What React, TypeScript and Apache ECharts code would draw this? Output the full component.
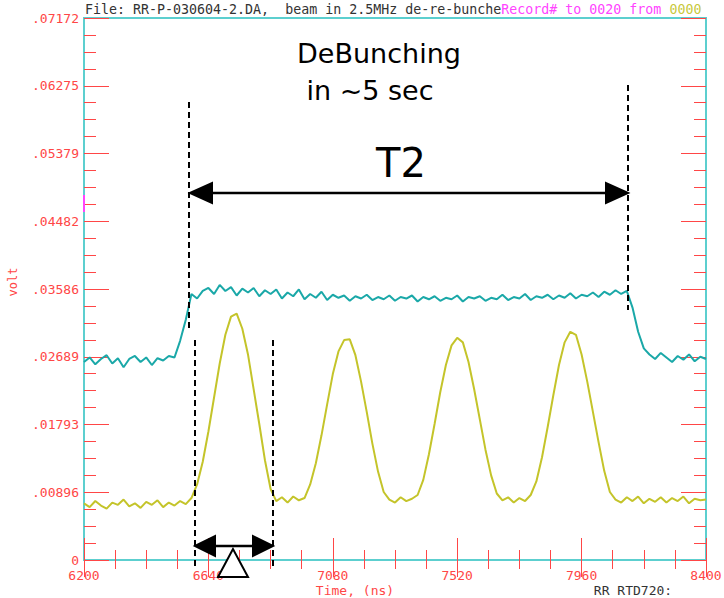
import React, { useEffect, useRef } from "react";
import * as echarts from "echarts";

// time grid (ns): sampling start and step
const T0 = 6200;
const STEP = 20;

// cyan trace (volt), one value per 20 ns from 6200 to 8400
const cyanTrace = [
  0.0262, 0.0268, 0.0259, 0.0266, 0.0271, 0.026, 0.0267, 0.0255, 0.0266, 0.027,
  0.0262, 0.0268, 0.0258, 0.0267, 0.0264, 0.027, 0.0268, 0.029, 0.0318, 0.0352,
  0.0346, 0.0356, 0.036, 0.0352, 0.0364, 0.0356, 0.0361, 0.035, 0.0359, 0.0354,
  0.036, 0.0349, 0.0357, 0.0352, 0.0358, 0.0346, 0.0354, 0.0349, 0.0358, 0.0345,
  0.0352, 0.0347, 0.0355, 0.0344, 0.0351, 0.0347, 0.035, 0.0343, 0.0349, 0.0346,
  0.0351, 0.0344, 0.0348, 0.0345, 0.035, 0.0343, 0.0348, 0.0346, 0.035, 0.0342,
  0.0348, 0.0345, 0.0349, 0.0343, 0.0347, 0.0345, 0.035, 0.0342, 0.0348, 0.0346,
  0.0349, 0.0343, 0.0347, 0.0345, 0.0351, 0.0344, 0.0348, 0.0346, 0.0352, 0.0344,
  0.0349, 0.0347, 0.0351, 0.0345, 0.035, 0.0347, 0.0353, 0.0346, 0.0351, 0.0349,
  0.0354, 0.0348, 0.0355, 0.0351, 0.0357, 0.0352, 0.0356, 0.0334, 0.0302, 0.028,
  0.0272, 0.0266, 0.0274, 0.0268, 0.0262, 0.027, 0.0265, 0.0272, 0.0263, 0.0269,
  0.0266,
];

// yellow trace (volt), one value per 20 ns from 6200 to 8400
const yellowTrace = [
  0.0075, 0.007, 0.0078, 0.0072, 0.0068, 0.0076, 0.0073, 0.008, 0.0071, 0.0075,
  0.0069, 0.0077, 0.0073, 0.0079, 0.007, 0.0076, 0.0072, 0.0078, 0.0074, 0.0082,
  0.01, 0.013, 0.017, 0.0215, 0.026, 0.0298, 0.0322, 0.0326, 0.0306, 0.0272,
  0.0226, 0.018, 0.0132, 0.0094, 0.0078, 0.0083, 0.0076, 0.0084, 0.0079, 0.0082,
  0.01, 0.0128, 0.0165, 0.0206, 0.0246, 0.0276, 0.0291, 0.0292, 0.0271, 0.0236,
  0.0196, 0.0154, 0.0117, 0.009, 0.008, 0.0076, 0.0083, 0.0078, 0.0081, 0.0086,
  0.0106, 0.014, 0.018, 0.0222, 0.0258, 0.0284, 0.0294, 0.0288, 0.0262, 0.0226,
  0.0186, 0.0146, 0.0112, 0.0088, 0.0079, 0.0083, 0.0076, 0.0082, 0.0078, 0.0086,
  0.0104, 0.0136, 0.0176, 0.0218, 0.0258, 0.0288, 0.0302, 0.0298, 0.0272, 0.0236,
  0.0196, 0.0156, 0.0118, 0.009, 0.008, 0.0076, 0.0083, 0.0078, 0.0084, 0.0075,
  0.0081, 0.0077, 0.0083, 0.0076, 0.0082, 0.0078, 0.0084, 0.0075, 0.0081, 0.0079,
  0.008,
];

// axes
const X_MIN = 6200;
const X_MAX = 8400;
const X_INTERVAL = 440;
const Y_MIN = 0;
const Y_MAX = 0.07172;
const Y_INTERVAL = 0.008965;
const yTickLabels = [
  "0",
  ".00896",
  ".01793",
  ".02689",
  ".03586",
  ".04482",
  ".05379",
  ".06275",
  ".07172",
];

const FRAME = "#5ccfcf";
const RED = "#ff4646";
const MONO = "DejaVu Sans Mono";

export default function App() {
  const ref = useRef<HTMLDivElement>(null);

  useEffect(() => {
    document.body.style.margin = "0";
    if (!ref.current) return;
    const chart = echarts.init(ref.current, null, { renderer: "svg" });

    const cyanData = cyanTrace.map((v, i) => [T0 + STEP * i, v]);
    const yellowData = yellowTrace.map((v, i) => [T0 + STEP * i, v]);

    const dash = [6, 4];
    const black = "#000";
    const line = (x1: number, y1: number, x2: number, y2: number, dashed: boolean, w = 2) => ({
      type: "line",
      z: 100,
      shape: { x1, y1, x2, y2 },
      style: { stroke: black, lineWidth: w, lineDash: dashed ? dash : null },
    });
    const poly = (pts: number[][], fill = black) => ({
      type: "polygon",
      z: 100,
      shape: { points: pts },
      style: { fill, stroke: black, lineWidth: 2 },
    });
    const text = (
      t: string,
      x: number,
      y: number,
      size: number,
      family: string,
      fill: string,
      align = "left",
      extra: any = {}
    ) => ({
      type: "text",
      z: 100,
      x,
      y,
      ...extra,
      style: {
        text: t,
        fill,
        fontSize: size,
        fontFamily: family,
        textAlign: align,
        align,
        textVerticalAlign: "middle",
        verticalAlign: "middle",
      },
    });

    const xTickCommon = {
      type: "value",
      min: X_MIN,
      max: X_MAX,
      interval: X_INTERVAL,
      splitLine: { show: false },
    };
    const yTickCommon = {
      type: "value",
      min: Y_MIN,
      max: Y_MAX,
      interval: Y_INTERVAL,
      splitLine: { show: false },
    };

    chart.setOption({
      animation: false,
      backgroundColor: "#ffffff",
      grid: {
        left: 84,
        right: 18,
        top: 18,
        bottom: 38,
        show: true,
        borderColor: FRAME,
        borderWidth: 2,
        outerBoundsMode: "none",
        containLabel: false,
      },
      xAxis: [
        {
          ...xTickCommon,
          position: "bottom",
          axisLine: { show: true, lineStyle: { color: FRAME, width: 2 } },
          axisTick: { show: true, inside: true, length: 22, lineStyle: { color: RED, width: 1 } },
          minorTick: { show: true, splitNumber: 4, length: 10, lineStyle: { color: RED, width: 1 } },
          axisLabel: {
            show: true,
            margin: 9,
            color: RED,
            fontSize: 13,
            fontFamily: MONO,
            formatter: (v: number) => String(Math.round(v)),
          },
        },
        {
          ...xTickCommon,
          position: "top",
          axisLine: { show: true, lineStyle: { color: FRAME, width: 2 } },
          axisTick: { show: true, inside: true, length: 17, lineStyle: { color: RED, width: 1 } },
          minorTick: { show: true, splitNumber: 4, length: 9, lineStyle: { color: RED, width: 1 } },
          axisLabel: { show: false },
        },
      ],
      yAxis: [
        {
          ...yTickCommon,
          position: "left",
          axisLine: { show: true, lineStyle: { color: FRAME, width: 2 } },
          axisTick: { show: true, inside: true, length: 25, lineStyle: { color: RED, width: 1 } },
          minorTick: { show: true, splitNumber: 4, length: 12, lineStyle: { color: RED, width: 1 } },
          axisLabel: {
            show: true,
            margin: 5,
            color: RED,
            fontSize: 13,
            fontFamily: MONO,
            formatter: (v: number) => yTickLabels[Math.round(v / Y_INTERVAL)] ?? "",
          },
        },
        {
          ...yTickCommon,
          position: "right",
          axisLine: { show: true, lineStyle: { color: FRAME, width: 2 } },
          axisTick: { show: true, inside: true, length: 25, lineStyle: { color: RED, width: 1 } },
          minorTick: { show: true, splitNumber: 4, length: 12, lineStyle: { color: RED, width: 1 } },
          axisLabel: { show: false },
        },
      ],
      series: [
        {
          type: "line",
          name: "cyan",
          xAxisIndex: 0,
          yAxisIndex: 0,
          data: cyanData,
          showSymbol: false,
          symbol: "none",
          lineStyle: { color: "#1aa8a8", width: 2 },
          itemStyle: { color: "#1aa8a8" },
          z: 3,
        },
        {
          type: "line",
          name: "yellow",
          xAxisIndex: 0,
          yAxisIndex: 0,
          data: yellowData,
          showSymbol: false,
          symbol: "none",
          lineStyle: { color: "#c4c42a", width: 2 },
          itemStyle: { color: "#c4c42a" },
          z: 3,
        },
      ],
      graphic: [
        // header
        {
          type: "text",
          z: 100,
          x: 85,
          y: 9,
          style: {
            text:
              "{k|File: RR-P-030604-2.DA,  beam in 2.5MHz de-re-bunche}{m|Record# to 0020 from }{y|0000}",
            fontSize: 13.3,
            fontFamily: MONO,
            verticalAlign: "middle",
            textVerticalAlign: "middle",
            rich: {
              k: { fill: "#333333", fontSize: 13.3, fontFamily: MONO },
              m: { fill: "#ff44ff", fontSize: 13.3, fontFamily: MONO },
              y: { fill: "#c8c83c", fontSize: 13.3, fontFamily: MONO },
            },
          },
        },
        // axis names
        text("Time, (ns)", 355, 590, 13, MONO, RED, "center"),
        text("RR RTD720:", 633, 590, 13, MONO, "#333333", "center"),
        text("volt", 13, 282, 12, MONO, RED, "center", { rotation: Math.PI / 2 }),
        // small magenta mark on left frame
        {
          type: "line",
          z: 50,
          shape: { x1: 84, y1: 195, x2: 84, y2: 212 },
          style: { stroke: "#ff44ff", lineWidth: 2 },
        },
        // annotations
        text("DeBunching", 379, 53, 27, "DejaVu Sans", black, "center"),
        text("in ~5 sec", 370, 90, 27, "DejaVu Sans", black, "center"),
        text("T2", 401, 163, 40, "DejaVu Sans", black, "center"),
        line(189, 102, 189, 330, true),
        line(628, 85, 628, 310, true),
        line(200, 193, 618, 193, false, 2.5),
        poly([
          [190, 193],
          [212, 183],
          [212, 203],
        ]),
        poly([
          [628, 193],
          [606, 183],
          [606, 203],
        ]),
        line(195, 340, 195, 570, true),
        line(273, 340, 273, 570, true),
        line(205, 546, 263, 546, false, 2.5),
        poly([
          [195, 546],
          [215, 536],
          [215, 556],
        ]),
        poly([
          [273, 546],
          [253, 536],
          [253, 556],
        ]),
        poly(
          [
            [233, 549],
            [218, 577],
            [248, 577],
          ],
          "#ffffff"
        ),
      ],
    });

    return () => {
      chart.dispose();
    };
  }, []);

  return <div ref={ref} style={{ width: 724, height: 598 }} />;
}
